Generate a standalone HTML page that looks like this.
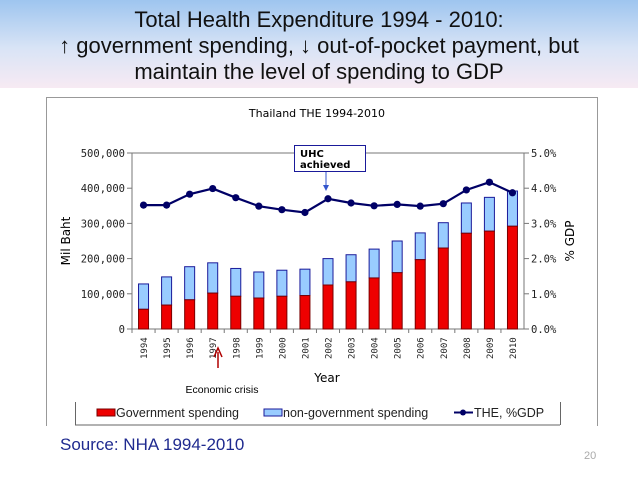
<!DOCTYPE html>
<html><head><meta charset="utf-8"><style>
body{margin:0;width:638px;height:479px;overflow:hidden;background:#fff;font-family:"Liberation Sans",sans-serif;}
#hdr{position:absolute;left:0;top:0;width:638px;height:88px;background:linear-gradient(#9ec5ef,#d9e4f6 55%,#f7eaf3);}
.t{position:absolute;left:0;width:638px;text-align:center;font-size:22px;color:#111;}
</style></head><body>
<div id="hdr"></div>
<div class="t" style="top:7px">Total Health Expenditure 1994 - 2010:</div>
<div class="t" style="top:33px">↑ government spending, ↓ out-of-pocket payment, but</div>
<div class="t" style="top:59px">maintain the level of spending to GDP</div>
<svg id="c" width="638" height="479" style="position:absolute;left:0;top:0"></svg>
<div style="position:absolute;left:60px;top:435px;font-size:17px;color:#1f2a8f">Source: NHA 1994-2010</div>
<div style="position:absolute;left:584px;top:450px;font-size:11px;color:#aaa">20</div>
<script>
const years=["1994","1995","1996","1997","1998","1999","2000","2001","2002","2003","2004","2005","2006","2007","2008","2009","2010"];
const totalSpend=[128000,148000,177000,188000,172000,162000,167000,170000,200000,211000,227000,250000,273000,302000,358000,374000,392000];
const govSpend=[56000,68000,83000,102000,93000,88000,93000,95000,125000,134000,145000,160000,197000,230000,272000,278000,292000];
const gdpPct=[3.52,3.52,3.83,3.99,3.73,3.49,3.39,3.31,3.70,3.58,3.50,3.54,3.49,3.56,3.95,4.17,3.87];
const leftTicks=[0,100000,200000,300000,400000,500000];
const rightTicks=[0,1,2,3,4,5];
const NS="http://www.w3.org/2000/svg",svg=document.getElementById('c');
const X0=132,X1=524,Y0=329,Y1=153;
const step=(X1-X0)/years.length;
const xc=i=>X0+step*(i+0.5);
const yL=v=>Y0-(v/500000)*(Y0-Y1);
const yR=v=>Y0-(v/5)*(Y0-Y1);
function mk(t,a,txt){const e=document.createElementNS(NS,t);for(const k in a)e.setAttribute(k,a[k]);if(txt!==undefined)e.textContent=txt;svg.appendChild(e);return e;}
let e;
e=mk('path',{d:'M46.5,426V97.5H597.5V426',fill:'none',stroke:'#999'});

e=mk('text',{x:317,y:117,'text-anchor':'middle','font-size':11,'font-family':'DejaVu Sans'},'Thailand THE 1994-2010');

e=mk('path',{d:`M${X0},${Y1}H${X1}M${X0},${Y1}V${Y0}H${X1}V${Y1}`,fill:'none',stroke:'#777'});

leftTicks.forEach(v=>{
 mk('line',{x1:X0-5,x2:X0,y1:yL(v),y2:yL(v),stroke:'#777'});
 e=mk('text',{x:X0-7,y:yL(v)+4,'text-anchor':'end','font-size':10.5,'font-family':'DejaVu Sans Mono',fill:'#222'},v.toLocaleString('en-US'));
 
});
rightTicks.forEach(v=>{
 mk('line',{x1:X1,x2:X1+5,y1:yR(v),y2:yR(v),stroke:'#777'});
 e=mk('text',{x:X1+7,y:yR(v)+4,'font-size':10.5,'font-family':'DejaVu Sans Mono',fill:'#222'},v.toFixed(1)+'%');
 
});
e=mk('text',{x:0,y:0,transform:'translate(70,241) rotate(-90)','text-anchor':'middle','font-size':12,'font-family':'DejaVu Sans'},'Mil Baht');

e=mk('text',{x:0,y:0,transform:'translate(574,241) rotate(-90)','text-anchor':'middle','font-size':12,'font-family':'DejaVu Sans'},'% GDP');

years.forEach((y,i)=>{
 const x=xc(i),bw=10;
 mk('line',{x1:X0+step*i,x2:X0+step*i,y1:Y0,y2:Y0+4,stroke:'#777'});
 e=mk('rect',{x:x-bw/2,y:yL(totalSpend[i]),width:bw,height:yL(govSpend[i])-yL(totalSpend[i]),fill:'#99ccff',stroke:'#1a1a9a','stroke-width':1});
 
 e=mk('rect',{x:x-bw/2,y:yL(govSpend[i]),width:bw,height:Y0-yL(govSpend[i]),fill:'#ee0000',stroke:'#7a0000','stroke-width':1});
 
 e=mk('text',{x:0,y:0,transform:`translate(${x+3.5},${Y0+30}) rotate(-90)`,'font-size':9,'font-family':'DejaVu Sans Mono',fill:'#222'},y);
 
});
e=mk('polyline',{points:gdpPct.map((v,i)=>xc(i)+','+yR(v)).join(' '),fill:'none',stroke:'#000066','stroke-width':2.2});

gdpPct.forEach((v,i)=>{e=mk('circle',{cx:xc(i),cy:yR(v),r:3.6,fill:'#000066'});
 });
e=mk('text',{x:327,y:382,'text-anchor':'middle','font-size':12,'font-family':'DejaVu Sans'},'Year');

e=mk('rect',{x:294.5,y:145.5,width:71,height:26,fill:'#fff',stroke:'#1a1a9a'});

mk('text',{x:300,y:157,'font-size':10,'font-weight':'bold','font-family':'DejaVu Sans'},'UHC');
mk('text',{x:300,y:168,'font-size':10,'font-weight':'bold','font-family':'DejaVu Sans'},'achieved');
mk('line',{x1:326,x2:326,y1:172,y2:186,stroke:'#3355cc'});
mk('path',{d:'M323,185L326,191L329,185Z',fill:'#3355cc'});
mk('line',{x1:218,x2:218,y1:352,y2:368,stroke:'#b00000','stroke-width':1.5});
mk('path',{d:'M214,357L218,348L222,357',fill:'none',stroke:'#b00000','stroke-width':1.5});
e=mk('text',{x:222,y:393,'text-anchor':'middle','font-size':10.5},'Economic crisis');

e=mk('path',{d:'M75.5,425V402M560.5,402V425M75,425H560',fill:'none',stroke:'#666'});

mk('rect',{x:97,y:409,width:18,height:7,fill:'#ee0000',stroke:'#7a0000'});
e=mk('text',{x:116,y:417,'font-size':12.5,fill:'#222'},'Government spending');

mk('rect',{x:264,y:409,width:18,height:7,fill:'#99ccff',stroke:'#1a1a9a'});
e=mk('text',{x:283,y:417,'font-size':12.5,fill:'#222'},'non-government spending');

mk('line',{x1:454,x2:473,y1:412.5,y2:412.5,stroke:'#000066','stroke-width':2});
mk('circle',{cx:463,cy:412.5,r:3,fill:'#000066'});
e=mk('text',{x:474,y:417,'font-size':12.5,fill:'#222'},'THE, %GDP');

</script>
</body></html>
